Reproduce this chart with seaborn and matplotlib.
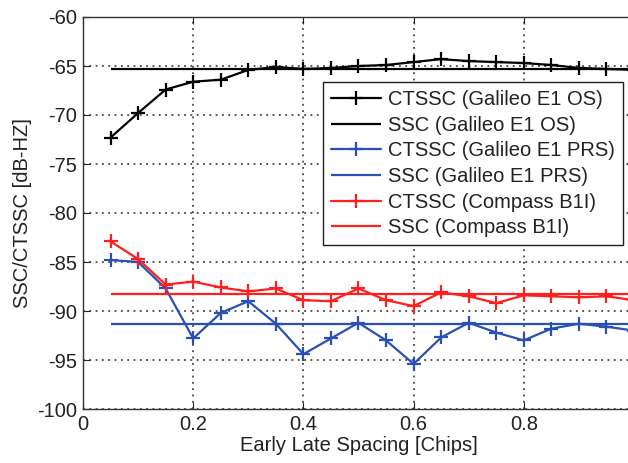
import matplotlib
matplotlib.use("Agg")
import matplotlib.pyplot as plt
import numpy as np
import pandas as pd
import seaborn as sns

# Early-late spacing values (chips)
spacing = [0.05, 0.10, 0.15, 0.20, 0.25, 0.30, 0.35, 0.40, 0.45, 0.50,
           0.55, 0.60, 0.65, 0.70, 0.75, 0.80, 0.85, 0.90, 0.95, 1.00]

# CTSSC curves [dB-Hz]
ctssc_e1os = [-72.3, -69.8, -67.4, -66.6, -66.4, -65.4, -65.1, -65.3, -65.2, -65.0,
              -64.9, -64.6, -64.3, -64.5, -64.6, -64.7, -64.9, -65.2, -65.3, -65.4]
ctssc_e1prs = [-84.8, -85.0, -87.7, -92.8, -90.2, -89.0, -91.3, -94.4, -92.8, -91.2,
               -93.0, -95.4, -92.7, -91.2, -92.2, -93.0, -91.8, -91.3, -91.6, -92.0]
ctssc_b1i = [-82.9, -84.7, -87.3, -87.0, -87.6, -88.0, -87.7, -88.9, -89.0, -87.7,
             -88.9, -89.5, -88.1, -88.5, -89.2, -88.4, -88.5, -88.6, -88.5, -88.9]

# SSC reference levels [dB-Hz]
ssc_e1os = -65.3
ssc_e1prs = -91.3
ssc_b1i = -88.3

signals = ["Galileo E1 OS", "Galileo E1 PRS", "Compass B1I"]
colors = ["#000000", "#2a4fb5", "#ff1f1f"]

df = pd.DataFrame({
    "spacing": spacing * 3,
    "ctssc": ctssc_e1os + ctssc_e1prs + ctssc_b1i,
    "signal": [s for s in signals for _ in spacing],
})
ssc_levels = dict(zip(signals, [ssc_e1os, ssc_e1prs, ssc_b1i]))

sns.set_theme(style="white", rc={"xtick.bottom": True, "ytick.left": True})
plt.rcParams["font.family"] = ["Liberation Sans", "DejaVu Sans"]
plt.rcParams["text.color"] = "#222222"
plt.rcParams["axes.labelcolor"] = "#222222"
plt.rcParams["xtick.color"] = "#222222"
plt.rcParams["ytick.color"] = "#222222"

fig = plt.figure(figsize=(6.28, 4.63), dpi=100)
ax = fig.add_axes([83 / 628, 54 / 463, 551 / 628, 392 / 463])

for sig, col in zip(signals, colors):
    sub = df[df["signal"] == sig]
    sns.lineplot(data=sub, x="spacing", y="ctssc", color=col, marker="+",
                 markersize=10, markeredgewidth=1.6, markeredgecolor=col,
                 linewidth=1.6, ax=ax, label="CTSSC (%s)" % sig, zorder=3)
    ax.hlines(ssc_levels[sig], spacing[0], spacing[-1], colors=col,
              linewidth=1.6, label="SSC (%s)" % sig, zorder=3)

ax.set_xlim(0, 1)
ax.set_ylim(-100, -60)
ax.set_xticks([0, 0.2, 0.4, 0.6, 0.8])
ax.set_xticklabels(["0", "0.2", "0.4", "0.6", "0.8"])
ax.set_yticks(np.arange(-100, -59, 5))
ax.set_yticklabels([str(v) for v in range(-100, -59, 5)])
ax.tick_params(direction="in", length=5, width=0.8, top=True, right=True,
               bottom=True, left=True, labelsize=14.5, pad=4)
grid_style = dict(color="#444444", linestyle=(0, (1, 2.5)), linewidth=1.3)
ax.xaxis.grid(True, **grid_style)
ax.yaxis.grid(True, **grid_style)
for sp in ax.spines.values():
    sp.set_color("#333333")
    sp.set_linewidth(1.0)

ax.set_xlabel("Early Late Spacing [Chips]", fontsize=14.5, labelpad=2)
ax.set_ylabel("SSC/CTSSC [dB-HZ]", fontsize=14.5, labelpad=4)

h, l = ax.get_legend_handles_labels()
order = ["CTSSC (Galileo E1 OS)", "SSC (Galileo E1 OS)",
         "CTSSC (Galileo E1 PRS)", "SSC (Galileo E1 PRS)",
         "CTSSC (Compass B1I)", "SSC (Compass B1I)"]
lookup = dict(zip(l, h))
leg = ax.legend([lookup[k] for k in order], order, loc="upper right",
                bbox_to_anchor=(0.98, 0.834), fontsize=14.5, frameon=True,
                fancybox=False, edgecolor="#222222", framealpha=1,
                borderpad=0.4, labelspacing=0.33, handlelength=2.5,
                handletextpad=0.35, borderaxespad=0)
leg.get_frame().set_linewidth(1.0)
leg.set_zorder(5)

fig.savefig("out.png", dpi=100)
